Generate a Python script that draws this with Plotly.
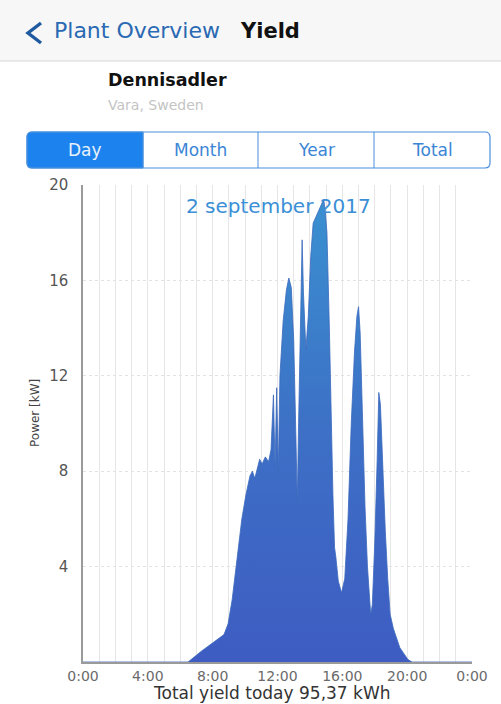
import plotly.graph_objects as go

# ---- data ----
hours = [0.0, 6.48, 7.3, 8.0, 8.7, 8.95, 9.2, 9.5, 9.8, 10.05, 10.3, 10.45, 10.6, 10.75,
         10.9, 11.05, 11.25, 11.45, 11.6, 11.75, 11.85, 11.95, 12.05, 12.15, 12.35, 12.55,
         12.7, 12.85, 13.0, 13.15, 13.22, 13.3, 13.45, 13.52, 13.6, 13.75, 13.9, 14.05,
         14.2, 14.4, 14.55, 14.75, 14.85, 14.95, 15.05, 15.2, 15.3, 15.42, 15.52, 15.6,
         15.75, 15.95, 16.15, 16.35, 16.55, 16.75, 16.9, 17.0, 17.1, 17.25, 17.4, 17.55,
         17.75, 17.85, 18.0, 18.15, 18.25, 18.35, 18.5, 18.65, 18.8, 18.95, 19.15, 19.35,
         19.55, 19.8, 20.05, 20.3, 24.0]
power_kw = [0.0, 0.0, 0.45, 0.8, 1.15, 1.6, 2.6, 4.3, 6.0, 7.0, 7.8, 8.0, 7.7, 8.1,
            8.5, 8.3, 8.6, 8.4, 8.9, 11.2, 8.2, 11.5, 8.0, 12.0, 14.3, 15.6,
            16.1, 15.7, 13.5, 9.0, 6.7, 10.0, 16.5, 17.7, 15.5, 13.1, 14.5, 17.0,
            18.4, 18.7, 19.0, 19.3, 19.4, 18.9, 18.0, 14.0, 10.5, 7.0, 4.8, 4.4,
            3.4, 2.9, 3.5, 6.0, 10.0, 13.0, 14.5, 14.9, 13.8, 10.0, 6.5, 4.0,
            2.0, 2.4, 5.0, 8.5, 11.3, 10.8, 8.0, 5.5, 3.5, 2.0, 1.4, 0.95,
            0.6, 0.35, 0.1, 0.0, 0.0]

x_tick_vals = [0, 4, 8, 12, 16, 20, 24]
x_tick_text = ["0:00", "4:00", "8:00", "12:00", "16:00", "20:00", "0:00"]
y_tick_vals = [4, 8, 12, 16, 20]
segments = ["Day", "Month", "Year", "Total"]

# ---- layout geometry (pixels) ----
W, H = 501, 704
L, R, T, B = 83, 472, 185, 662


def px(x):
    return (x - L) / (R - L)


def py(y):
    return (B - y) / (B - T)


FONT = "DejaVu Sans, Verdana, sans-serif"

fig = go.Figure()
fig.add_trace(go.Scatter(
    x=hours, y=power_kw, mode="lines", fill="tozeroy",
    line=dict(color="#3a68bd", width=0.8),
    fillgradient=dict(type="vertical",
                      colorscale=[[0, "#3e5cc2"], [0.5, "#3d70c6"], [1, "#3a90d0"]]),
    hoverinfo="skip", showlegend=False,
))

shapes = []
# header background
shapes.append(dict(type="rect", xref="paper", yref="paper", x0=px(0), x1=px(W),
                   y0=py(61), y1=py(0), fillcolor="#f7f7f7", line=dict(width=0), layer="below"))
shapes.append(dict(type="line", xref="paper", yref="paper", x0=px(0), x1=px(W),
                   y0=py(61), y1=py(61), line=dict(color="#d6d6d6", width=1)))
# chevron
shapes.append(dict(type="path", xref="paper", yref="paper",
                   path=f"M {px(41)} {py(23)} L {px(28)} {py(33)} L {px(41)} {py(43)}",
                   line=dict(color="#1f5aa0", width=3.4)))


def rounded_path(x0, y0, x1, y1, r, left=True, right=True):
    rl = r if left else 0
    rr = r if right else 0
    pts = []
    pts.append(f"M {px(x0 + rl)} {py(y0)}")
    pts.append(f"L {px(x1 - rr)} {py(y0)}")
    if rr:
        pts.append(f"Q {px(x1)} {py(y0)} {px(x1)} {py(y0 + rr)}")
    pts.append(f"L {px(x1)} {py(y1 - rr)}")
    if rr:
        pts.append(f"Q {px(x1)} {py(y1)} {px(x1 - rr)} {py(y1)}")
    pts.append(f"L {px(x0 + rl)} {py(y1)}")
    if rl:
        pts.append(f"Q {px(x0)} {py(y1)} {px(x0)} {py(y1 - rl)}")
    pts.append(f"L {px(x0)} {py(y0 + rl)}")
    if rl:
        pts.append(f"Q {px(x0)} {py(y0)} {px(x0 + rl)} {py(y0)}")
    pts.append("Z")
    return " ".join(pts)


seg_x = [27, 143, 258, 374, 490]
seg_y0, seg_y1 = 132, 168
# Day (selected) segment
shapes.append(dict(type="path", xref="paper", yref="paper",
                   path=rounded_path(seg_x[0], seg_y0, seg_x[1], seg_y1, 5, True, False),
                   fillcolor="#1c83ee", line=dict(color="#3f8de0", width=1)))
# outer border
shapes.append(dict(type="path", xref="paper", yref="paper",
                   path=rounded_path(seg_x[0], seg_y0, seg_x[-1], seg_y1, 5),
                   fillcolor="rgba(0,0,0,0)", line=dict(color="#4a8fdc", width=1.2)))
for sx in seg_x[1:-1]:
    shapes.append(dict(type="line", xref="paper", yref="paper", x0=px(sx), x1=px(sx),
                       y0=py(seg_y0), y1=py(seg_y1), line=dict(color="#4a8fdc", width=1)))

annotations = []


def text(x, y, s, size, color, anchor="left", bold=False, angle=0):
    annotations.append(dict(xref="paper", yref="paper", x=px(x), y=py(y),
                            text=f"<b>{s}</b>" if bold else s, showarrow=False,
                            xanchor=anchor, yanchor="middle", textangle=angle,
                            font=dict(family=FONT, size=size, color=color)))


text(52, 31, "Plant Overview", 22, "#2a69b3")
text(238, 31, "Yield", 21, "#111111", bold=True)
text(106, 80, "Dennisadler", 17.5, "#111111", bold=True)
text(106, 105, "Vara, Sweden", 14, "#c4c4c4")
for i, s in enumerate(segments):
    cx = (seg_x[i] + seg_x[i + 1]) / 2
    text(cx, 150, s, 17, "#e8f1fc" if i == 0 else "#3b85d6", anchor="center")
text(278, 206, "2 september 2017", 20, "#3b8fd6", anchor="center")
text(35, 413, "Power [kW]", 12, "#444444", anchor="center", angle=-90)
text(272, 693, "Total yield today 95,37 kWh", 17, "#333333", anchor="center")

fig.update_layout(
    width=W, height=H,
    margin=dict(l=L, r=W - R, t=T, b=H - B),
    paper_bgcolor="white", plot_bgcolor="white",
    shapes=shapes, annotations=annotations,
    xaxis=dict(range=[0, 24], tickmode="array", tickvals=x_tick_vals, ticktext=x_tick_text,
               showgrid=True, gridcolor="#e6e6e6", gridwidth=1,
               minor=dict(dtick=1, tick0=0, showgrid=True, gridcolor="#e6e6e6", gridwidth=1),
               showline=True, linecolor="#9a9a9a", linewidth=1.5,
               ticks="", tickfont=dict(family=FONT, size=14, color="#6a6a6a"),
               zeroline=False, fixedrange=True),
    yaxis=dict(range=[0, 20], tickmode="array", tickvals=y_tick_vals,
               showgrid=True, gridcolor="#e3e3e3", gridwidth=1, griddash="dot",
               showline=True, linecolor="#9a9a9a", linewidth=1.5,
               ticks="outside", ticklen=10, tickcolor="rgba(0,0,0,0)",
               tickfont=dict(family=FONT, size=15, color="#555555"),
               zeroline=False, fixedrange=True),
)

fig.write_html("out.html", config={"displayModeBar": False},
               post_script="document.body.style.margin='0';")
